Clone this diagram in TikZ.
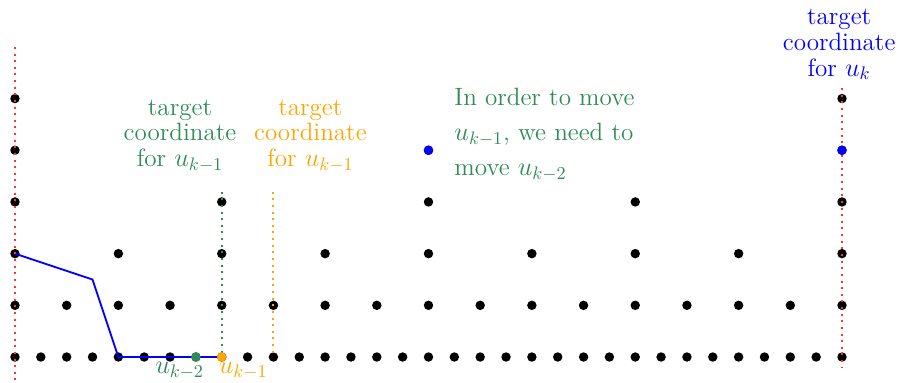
\documentclass[tikz,border=0pt]{standalone}
\usepackage{amsmath}
\usepackage{amssymb}
\usepackage{tikz}
\usetikzlibrary{positioning}
\usepackage{xcolor}
\definecolor{sgreen}{RGB}{46,139,87}
\definecolor{sorange}{RGB}{255,165,0}

\begin{document}
\begin{tikzpicture}[x=0.5cm, y=1cm,
  pt/.style={circle, fill=black, inner sep=0pt, minimum size=5.2pt},
  guide/.style={line width=1.1pt, dash pattern=on 1.1pt off 2.55pt},
  txt/.style={font=\fontsize{13.8}{14.2}\selectfont, inner sep=0pt, align=center}]
\useasboundingbox (-0.58,-0.484) rectangle (34.244,6.907);

% levels of the grid
\foreach \r/\s in {0/1,1/2,2/4,3/8,4/16,5/32}
  \foreach \i in {0,\s,...,32}
    \node[pt] (d\r-\i) at (\i,\r) {};

\coordinate (bend) at (3,1.5);
\draw [blue, line width=1pt] (d2-0.center) -- (bend) -- (d0-4.center) -- (d0-8.center);

\coordinate (redL-top) at (0,6);
\coordinate (redL-bot) at (0,-0.5);
\coordinate (redR-top) at (32,5.2);
\coordinate (redR-bot) at (32,-0.2);
\coordinate (grn-top) at (8,3.2);
\coordinate (org-top) at (10,3.2);
\draw [guide, line width=0.8pt, red!80] (redL-top) -- (redL-bot);
\draw [guide, line width=0.8pt, red!80] (redR-top) -- (redR-bot);
\draw [guide, sgreen] (grn-top) -- (d0-8.center);
\draw [guide, sorange] (org-top) -- (d0-10.center);

\path[fill=blue] (d4-16.center) circle (2.6pt);
\path[fill=blue] (d4-32.center) circle (2.6pt);
\path[fill=sgreen] (d0-7.center) circle (2.6pt);
\path[fill=sorange] (d0-8.center) circle (2.6pt);

\node[txt, text=sgreen, anchor=base] (lbl-km2) at (6.37,-0.315) {$u_{k-2}$};
\node[txt, text=sorange, anchor=base] (lbl-km1) at (8.83,-0.315) {$u_{k-1}$};

% base anchor sits on the last line
\node[txt, text=sgreen, anchor=base] (tgt-km1) at (6.385,3.682) {target\\coordinate\\for $u_{k-1}$};
\node[txt, text=sorange, anchor=base] (tgt-km1b) at (11.43,3.682) {target\\coordinate\\for $u_{k-1}$};
\node[txt, text=blue, anchor=base] (tgt-k) at (31.89,5.436) {target\\coordinate\\for $u_k$};
\node[txt, text=sgreen, align=left, anchor=base west, font=\fontsize{13.8}{19.4}\selectfont] (note) at (16.99,3.507) {In order to move\\$u_{k-1}$, we need to\\move $u_{k-2}$};
\end{tikzpicture}
\end{document}
